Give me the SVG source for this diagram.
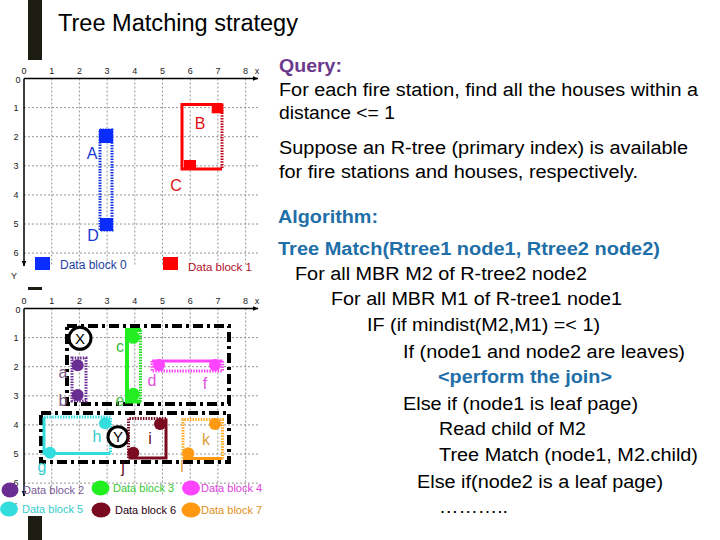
<svg xmlns="http://www.w3.org/2000/svg" xmlns:xlink="http://www.w3.org/1999/xlink" width="720" height="540" viewBox="0 0 720 540">
<style>
text{font-family:"Liberation Sans",Arial,sans-serif}
.ax{stroke:#000;stroke-width:1.5;fill:none}
.gl{stroke:#7a7a7a;stroke-width:0.8;stroke-dasharray:2 2;fill:none}
.tk{font-size:9px;fill:#222;text-anchor:middle}
.lb{font-size:16px}
.lg{font-size:11px}
.tx{font-size:18px;fill:#000}
.bb{font-size:18px;font-weight:bold;fill:#1f6fa8}
.dd{stroke:#000;stroke-width:4;fill:none;stroke-dasharray:10 4 3 4}
</style>
<defs>
<marker id="ah" viewBox="0 0 10 10" refX="9" refY="5" markerWidth="4" markerHeight="4" orient="auto"><path d="M0,1 L10,5 L0,9 z" fill="#000"/></marker>
<g id="grid">
<g class="gl">
<path d="M51.7 78.5V265M79.4 78.5V265M107.1 78.5V265M134.8 78.5V265M162.5 78.5V265M190.2 78.5V265M217.9 78.5V265M245.6 78.5V265"/>
<path d="M24 107.6H258M24 136.7H258M24 165.8H258M24 194.9H258M24 224H258M24 253.1H258"/>
</g>
<path class="ax" d="M24 78.5H258" marker-end="url(#ah)"/>
<path class="ax" d="M24 78.5V266" marker-end="url(#ah)"/>
<g class="tk">
<text x="24" y="74">0</text><text x="51.7" y="74">1</text><text x="79.4" y="74">2</text><text x="107.1" y="74">3</text><text x="134.8" y="74">4</text><text x="162.5" y="74">5</text><text x="190.2" y="74">6</text><text x="217.9" y="74">7</text><text x="245.6" y="74">8</text><text x="257" y="74">x</text>
<text x="18" y="83">0</text><text x="16" y="111">1</text><text x="16" y="140">2</text><text x="16" y="169">3</text><text x="16" y="198">4</text><text x="16" y="227">5</text><text x="16" y="256">6</text><text x="14" y="279">Y</text>
</g>
</g>
</defs>

<g id="side-bar" fill="#1c1c12">
<rect x="28" y="0" width="14" height="60"/>
<rect x="28" y="287" width="14" height="3"/>
<rect x="28" y="516" width="14" height="24"/>
</g>

<text x="58" y="31" font-size="23" textLength="240" lengthAdjust="spacingAndGlyphs" fill="#000">Tree Matching strategy</text>

<!-- top grid -->
<g id="top-grid">
<use xlink:href="#grid"/>
<g id="rect-B">
<path d="M222 104.5H182V169H222" stroke="#ff0000" stroke-width="3" fill="none"/>
<path d="M222 104.5V169" stroke="#c0001a" stroke-width="3" stroke-dasharray="1.5 1.2" fill="none"/>
<rect x="211.7" y="103.3" width="11.6" height="10" fill="#ff0000"/>
<rect x="184" y="160" width="12" height="10" fill="#ff0000"/>
<text class="lb" x="200" y="129" fill="#e01010" text-anchor="middle">B</text>
<text class="lb" x="176" y="191" fill="#e01010" text-anchor="middle">C</text>
</g>
<g id="rect-A">
<rect x="100" y="130" width="12" height="100" stroke="#1030e0" stroke-width="3" stroke-dasharray="1.5 1.2" fill="none"/>
<rect x="99" y="129" width="14" height="14" fill="#0a2cff"/>
<rect x="100" y="218" width="13" height="13" fill="#0a2cff"/>
<text class="lb" x="92" y="159" fill="#1a3ad0" text-anchor="middle">A</text>
<text class="lb" x="93" y="241" fill="#1a3ad0" text-anchor="middle">D</text>
</g>
<g id="legend-top">
<rect x="35" y="257" width="15" height="13" fill="#0a2cff"/>
<text x="60" y="269" font-size="12" fill="#1f3fa0">Data block 0</text>
<rect x="163" y="257" width="15" height="13" fill="#ff0000"/>
<text x="188" y="271" font-size="11.5" fill="#b0102a">Data block 1</text>
</g>
</g>

<!-- bottom grid -->
<g id="bottom-grid">
<use xlink:href="#grid" transform="translate(0,230)"/>
<g id="mbr-X">
<rect class="dd" x="67" y="326" width="162" height="78"/>
<circle cx="80" cy="338.3" r="11" fill="#fff" stroke="#000" stroke-width="3"/>
<text x="80" y="344" font-size="15" text-anchor="middle" fill="#000">X</text>
</g>
<g id="mbr-Y">
<rect class="dd" x="41" y="413" width="188" height="49"/>
</g>
<g id="block-ab">
<rect x="72" y="358" width="14" height="43" stroke="#6a2d91" stroke-width="3" stroke-dasharray="1.5 1.2" fill="none"/>
<circle cx="77.7" cy="365.3" r="6" fill="#6a2d91"/>
<circle cx="77.7" cy="395" r="6" fill="#6a2d91"/>
<text class="lb" x="63" y="378" fill="#7a5a8a" text-anchor="middle">a</text>
<text class="lb" x="63" y="406" fill="#7a5a8a" text-anchor="middle">b</text>
</g>
<g id="block-ce">
<path d="M141 330H127V401.5H141" stroke="#22ee22" stroke-width="4" fill="none"/>
<path d="M140.5 330V401.5" stroke="#22dd22" stroke-width="3" stroke-dasharray="1.5 1.2" fill="none"/>
<circle cx="133.3" cy="337.3" r="6.5" fill="#22ee22"/>
<circle cx="133.3" cy="394.3" r="6.5" fill="#22ee22"/>
<text class="lb" x="120" y="352" fill="#44bb44" text-anchor="middle">c</text>
<text class="lb" x="120" y="406" fill="#44bb44" text-anchor="middle">e</text>
</g>
<g id="block-df">
<path d="M152 361H222.5" stroke="#ff44ff" stroke-width="3" fill="none"/>
<path d="M222.5 361V371H152V361" stroke="#ff44ff" stroke-width="3" stroke-dasharray="1.5 1.2" fill="none"/>
<circle cx="159" cy="365" r="6" fill="#ff44ff"/>
<circle cx="215" cy="365" r="6" fill="#ff44ff"/>
<text class="lb" x="152" y="386" fill="#e050e0" text-anchor="middle">d</text>
<text class="lb" x="205" y="389" fill="#e050e0" text-anchor="middle">f</text>
</g>
<g id="block-gh">
<path d="M44 417V453.5H110.5" stroke="#33dddd" stroke-width="3" fill="none"/>
<path d="M44 417H110.5V453.5" stroke="#33dddd" stroke-width="3" stroke-dasharray="1.5 1.2" fill="none"/>
<circle cx="105" cy="423.3" r="6" fill="#33dddd"/>
<circle cx="50" cy="452.7" r="6" fill="#33dddd"/>
<text class="lb" x="97" y="442" fill="#33cccc" text-anchor="middle">h</text>
<text class="lb" x="42" y="472" fill="#33cccc" text-anchor="middle">g</text>
</g>
<circle id="point-Y" cx="118" cy="436.7" r="10" fill="#fff" stroke="#000" stroke-width="3"/>
<text x="118" y="442" font-size="15" text-anchor="middle" fill="#000">Y</text>
<g id="block-ij">
<path d="M128.5 458H166V418.5" stroke="#7a0a20" stroke-width="3" fill="none"/>
<path d="M166 418.5H128.5V458" stroke="#7a0a20" stroke-width="3" stroke-dasharray="1.5 1.2" fill="none"/>
<circle cx="160" cy="424" r="6" fill="#7a0a20"/>
<circle cx="133.3" cy="452.7" r="6" fill="#7a0a20"/>
<text class="lb" x="150" y="444" fill="#6a1020" text-anchor="middle">i</text>
<text class="lb" x="123" y="473" fill="#6a1020" text-anchor="middle">j</text>
</g>
<g id="block-kl">
<path d="M183 458.5H222.5" stroke="#ff9911" stroke-width="3" fill="none"/>
<path d="M183 458.5V419.5H222.5V458.5" stroke="#ffaa22" stroke-width="3" stroke-dasharray="1.5 1.2" fill="none"/>
<circle cx="215" cy="424" r="6" fill="#ff9911"/>
<circle cx="188.3" cy="453.3" r="6" fill="#ff9911"/>
<text class="lb" x="206" y="445" fill="#e0a040" text-anchor="middle">k</text>
<text class="lb" x="182" y="472" fill="#e0a040" text-anchor="middle">l</text>
</g>
<g id="legend-bottom">
<ellipse cx="10" cy="490" rx="8.5" ry="7.5" fill="#6a2d91"/>
<text class="lg" x="23" y="494" fill="#7a5a9a">Data block 2</text>
<ellipse cx="100.5" cy="488" rx="9" ry="7.5" fill="#22ee22"/>
<text class="lg" x="113" y="492" fill="#33cc33">Data block 3</text>
<ellipse cx="191" cy="488" rx="9" ry="7.5" fill="#ff44ff"/>
<text class="lg" x="201" y="492" fill="#e040e0">Data block 4</text>
<ellipse cx="9" cy="509" rx="9" ry="7.5" fill="#33dddd"/>
<text class="lg" x="22" y="513" fill="#33cccc">Data block 5</text>
<ellipse cx="101" cy="510" rx="9.5" ry="7.5" fill="#7a0a20"/>
<text class="lg" x="115" y="514" fill="#2a0010">Data block 6</text>
<ellipse cx="191" cy="510" rx="9.5" ry="7.5" fill="#ff9911"/>
<text class="lg" x="201" y="514" fill="#e09020">Data block 7</text>
</g>
</g>

<!-- right text -->
<g id="query-text">
<text x="279" y="72" font-size="18" font-weight="bold" fill="#6b3a8e" textLength="63" lengthAdjust="spacingAndGlyphs">Query:</text>
<text class="tx" x="279" y="96" textLength="419" lengthAdjust="spacingAndGlyphs">For each fire station, find all the houses within a</text>
<text class="tx" x="279" y="119" textLength="116" lengthAdjust="spacingAndGlyphs">distance &lt;= 1</text>
<text class="tx" x="279" y="154" textLength="409" lengthAdjust="spacingAndGlyphs">Suppose an R-tree (primary index) is available</text>
<text class="tx" x="279" y="178" textLength="359" lengthAdjust="spacingAndGlyphs">for fire stations and houses, respectively.</text>
</g>
<g id="algorithm-text">
<text class="bb" x="278" y="223" textLength="100" lengthAdjust="spacingAndGlyphs">Algorithm:</text>
<text class="bb" x="278" y="255" textLength="382" lengthAdjust="spacingAndGlyphs">Tree Match(Rtree1 node1, Rtree2 node2)</text>
<text class="tx" x="295" y="280" textLength="292" lengthAdjust="spacingAndGlyphs">For all MBR M2 of R-tree2 node2</text>
<text class="tx" x="331" y="305" textLength="291" lengthAdjust="spacingAndGlyphs">For all MBR M1 of R-tree1 node1</text>
<text class="tx" x="367" y="331" textLength="233" lengthAdjust="spacingAndGlyphs">IF (if mindist(M2,M1) =&lt; 1)</text>
<text class="tx" x="403" y="358" textLength="282" lengthAdjust="spacingAndGlyphs">If (node1 and node2 are leaves)</text>
<text class="bb" x="438" y="383" textLength="174" lengthAdjust="spacingAndGlyphs">&lt;perform the join&gt;</text>
<text class="tx" x="403" y="410" textLength="235" lengthAdjust="spacingAndGlyphs">Else if (node1 is leaf page)</text>
<text class="tx" x="439" y="435" textLength="147" lengthAdjust="spacingAndGlyphs">Read child of M2</text>
<text class="tx" x="439" y="461" textLength="259" lengthAdjust="spacingAndGlyphs">Tree Match (node1, M2.child)</text>
<text class="tx" x="417" y="488" textLength="246" lengthAdjust="spacingAndGlyphs">Else if(node2 is a leaf page)</text>
<text class="tx" x="439" y="513" textLength="69" lengthAdjust="spacingAndGlyphs">………..</text>
</g>
</svg>
